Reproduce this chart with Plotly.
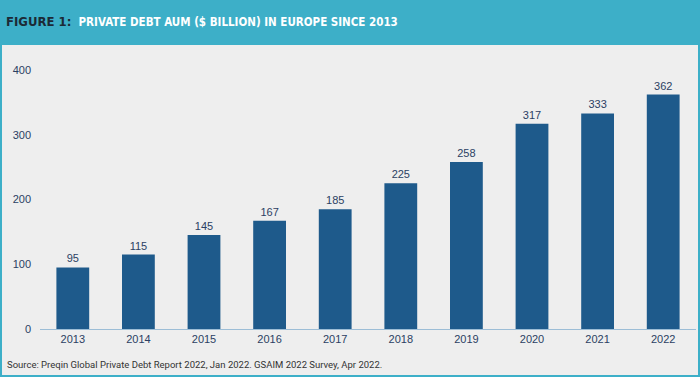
import plotly.graph_objects as go

years = ["2013", "2014", "2015", "2016", "2017", "2018", "2019", "2020", "2021", "2022"]
aum = [95, 115, 145, 167, 185, 225, 258, 317, 333, 362]
y_ticks = [0, 100, 200, 300, 400]

W, H = 700, 377
L, R, T, B = 40, 4, 70, 48
pw, ph = W - L - R, H - T - B

def px(x):
    return (x - L) / pw

def py(y):
    return (H - B - y) / ph

teal = "#3DAFC8"
navy = "#2B3F63"

fig = go.Figure(go.Bar(
    x=years, y=aum, width=0.5,
    marker=dict(color="#1E5A8B", line=dict(width=0)),
    text=aum, textposition="outside", cliponaxis=False,
    textfont=dict(color=navy, size=11, family="Arial, Liberation Sans"),
))

shapes = [
    dict(type="rect", xref="paper", yref="paper", x0=px(2), x1=px(W - 2), y0=py(H - 2), y1=py(45),
         fillcolor="#EEEEEE", line=dict(width=0), layer="below"),
]
fig.update_layout(
    width=W, height=H,
    margin=dict(l=L, r=R, t=T, b=B, autoexpand=False),
    paper_bgcolor=teal, plot_bgcolor="rgba(0,0,0,0)",
    shapes=shapes,
    showlegend=False,
    xaxis=dict(showline=True, linecolor="#9CBDD6", linewidth=1, ticks="", automargin=False,
               tickfont=dict(color=navy, size=11, family="Arial, Liberation Sans"), fixedrange=True),
    yaxis=dict(range=[0, 400], tickvals=y_ticks, showgrid=False, zeroline=False, showline=False, automargin=False,
               tickfont=dict(color=navy, size=11, family="Arial, Liberation Sans"), ticklabelstandoff=8),
    annotations=[
        dict(xref="paper", yref="paper", x=px(4), y=py(22), xanchor="left", yanchor="middle", showarrow=False,
             text="<b><span style='color:#1C2A36;font-size:13px'>FIGURE 1:</span>  PRIVATE DEBT AUM ($ BILLION) IN EUROPE SINCE 2013</b>",
             font=dict(color="white", size=11.5, family="DejaVu Sans Condensed, Roboto")),
        dict(xref="paper", yref="paper", x=px(5), y=py(364), xanchor="left", yanchor="middle", showarrow=False,
             text="Source: Preqin Global Private Debt Report 2022, Jan 2022. GSAIM 2022 Survey, Apr 2022.",
             font=dict(color="#333333", size=9.5, family="Roboto")),
    ],
)
fig.write_html("out.html", config={"displayModeBar": False},
               post_script="document.body.style.margin='0';document.body.style.overflow='hidden';")
